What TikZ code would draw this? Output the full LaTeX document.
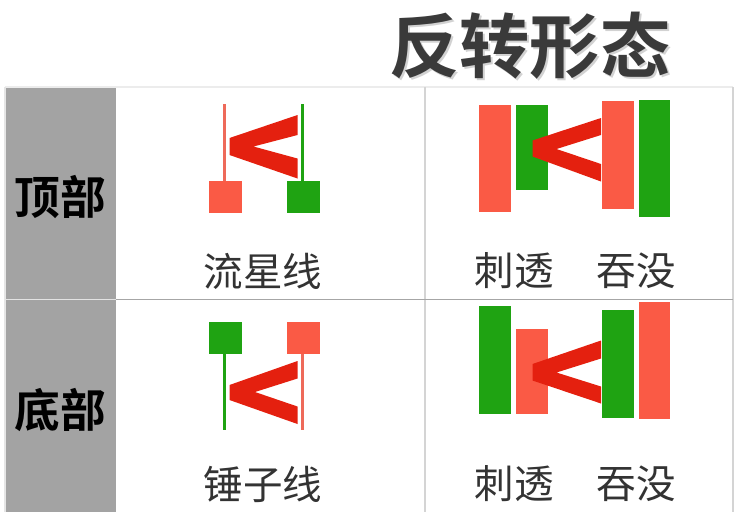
\documentclass[tikz,border=0pt]{standalone}
\usepackage{fontspec}
\setmainfont{Noto Sans CJK SC}[BoldFont={Noto Sans CJK SC Bold}]
\definecolor{upgreen}{HTML}{1FA312}
\definecolor{downred}{HTML}{FA5A45}
\definecolor{wickred}{HTML}{EE6A5A}
\definecolor{chevred}{HTML}{E4200F}
\definecolor{headgray}{HTML}{A3A3A3}
\definecolor{labelgray}{HTML}{333333}
\definecolor{titlegray}{HTML}{3A3A3A}
\definecolor{rulegray}{HTML}{D4D4D4}
\tikzset{
  upbar/.style={fill=upgreen},
  downbar/.style={fill=downred},
  chevron/.style={fill=chevred},
  wick/.style={line width=1.2pt},
  caption/.style={font=\fontsize{22.5}{24}\selectfont,text=labelgray,inner sep=0pt},
  rowname/.style={font=\fontsize{26}{28}\selectfont\bfseries,inner sep=0pt}
}
\begin{document}
\begin{tikzpicture}[x=0.02cm,y=-0.02cm]
\useasboundingbox (0,0) rectangle (735,512);

% table
\fill[headgray] (5,87) rectangle (116,512);
\draw[white!85!gray,line width=0.6pt] (5,87) -- (733,87);
\draw[white!80!gray,line width=0.6pt] (5,87) -- (5,512);
\draw[rulegray,line width=1.2pt] (425,87) -- (425,512);
\draw[rulegray,line width=1.2pt] (733,87) -- (733,512);
\draw[gray!70,line width=0.6pt] (116,299.5) -- (733,299.5);
\draw[white!70!headgray,line width=0.6pt] (5,299.5) -- (116,299.5);

% title
\node[font=\fontsize{40}{42}\selectfont\bfseries,text=gray!35,inner sep=0pt] at (532,48) {反转形态};
\node (title)[font=\fontsize{40}{42}\selectfont\bfseries,text=titlegray,inner sep=0pt] at (530,46) {反转形态};

\node (top)[rowname] at (60,197) {顶部};
\node (bottom)[rowname] at (60,410) {底部};

% shooting star
\draw[wick,wickred] (224.5,104) -- (224.5,181);
\fill[downbar] (209,181) rectangle (241.5,213);
\draw[wick,upgreen] (302.5,104) -- (302.5,181);
\fill[upbar] (286.5,181) rectangle (319.5,213);
\fill[chevron] (297.5,115) -- (229.5,138) -- (229.5,155) -- (297.5,178.5)
  -- (297.5,158.5) -- (253.5,146.5) -- (297.5,135) -- cycle;
\node (shooting)[caption] at (263,271) {流星线};

% top pierce / engulf
\fill[downbar] (479,105) rectangle (511,211.5);
\fill[upbar] (515.5,105) rectangle (547.5,190);
\fill[downbar] (601.5,101) rectangle (633.5,208.5);
\fill[upbar] (638.5,100) rectangle (670,216.5);
\fill[chevron] (601,118) -- (532.5,140.5) -- (532.5,156.5) -- (601,181.5)
  -- (601,164) -- (556.5,149) -- (601,135) -- cycle;
\node (piercetop)[caption] at (514,271) {刺透};
\node (engulftop)[caption] at (636,271) {吞没};

% hammer
\fill[upbar] (208.5,321.5) rectangle (241.5,353.5);
\draw[wick,upgreen] (224.5,353.5) -- (224.5,430);
\fill[downbar] (286.5,321.5) rectangle (319.5,353.5);
\draw[wick,wickred] (302.5,353.5) -- (302.5,430);
\fill[chevron] (297.5,361) -- (229.5,385) -- (229.5,400) -- (297.5,424)
  -- (297.5,406.5) -- (255,392) -- (297.5,378.5) -- cycle;
\node (hammer)[caption] at (263,484) {锤子线};

% bottom pierce / engulf
\fill[upbar] (478.5,305.5) rectangle (511,413.5);
\fill[downbar] (515.5,328.5) rectangle (547.5,413.5);
\fill[upbar] (601.5,310) rectangle (633.5,417.5);
\fill[downbar] (638.5,301.5) rectangle (670,418.5);
\fill[chevron] (601,340.5) -- (532.5,364) -- (532.5,380.5) -- (601,403.5)
  -- (601,386.5) -- (556.5,372.5) -- (601,358.5) -- cycle;
\node (piercebottom)[caption] at (514,484) {刺透};
\node (engulfbottom)[caption] at (636,484) {吞没};
\end{tikzpicture}
\end{document}
